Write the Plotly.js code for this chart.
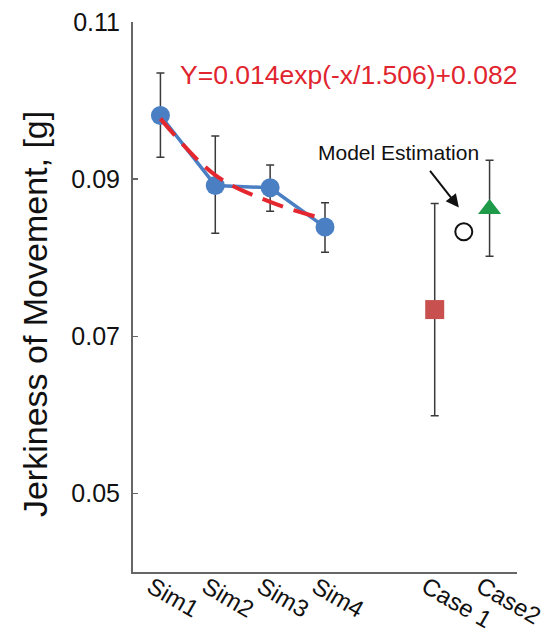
<!DOCTYPE html>
<html>
<head>
<meta charset="utf-8">
<script src="https://cdn.plot.ly/plotly-3.0.1.min.js"></script>
<style>
  html, body { margin: 0; padding: 0; background: #fff; }
  #chart { width: 560px; height: 636px; }
</style>
</head>
<body>
<div id="chart"></div>
<script>
// ---- Data ----
const categories = ['Sim1', 'Sim2', 'Sim3', 'Sim4', 'Case 1', 'Case2'];
const categoryX = [1, 2, 3, 4, 6, 7];

const simX = [1, 2, 3, 4];
const simJerk = [0.0981, 0.0892, 0.0889, 0.0839];
const simErrPlus = [0.0054, 0.0063, 0.0029, 0.0031];
const simErrMinus = [0.0053, 0.0061, 0.0030, 0.0032];

const fitJerk = [0.0977, 0.0905, 0.0871, 0.0849];
const fitLabel = 'Y=0.014exp(-x/1.506)+0.082';

const case1X = [6];
const case1Jerk = [0.0734];
const case1ErrPlus = [0.0135];
const case1ErrMinus = [0.0135];

const case2X = [7];
const case2Jerk = [0.0862];
const case2ErrPlus = [0.0062];
const case2ErrMinus = [0.0060];

const estimateX = [6.53];
const estimateJerk = [0.0833];
const estimateLabel = 'Model Estimation';

const yTickVals = [0.05, 0.07, 0.09, 0.11];
const yTickText = ['0.05', '0.07', '0.09', '0.11'];
const yTitle = 'Jerkiness of Movement, [g]';

// ---- Styles ----
const FONT = 'Liberation Sans, Arial, Helvetica, sans-serif';
const errStyle = { color: '#3a3a3a', thickness: 1.5, width: 4 };

const traces = [
  {
    x: simX, y: simJerk, type: 'scatter', mode: 'lines+markers',
    line: { color: '#4a7fc4', width: 3.5 },
    marker: { color: '#4a7fc4', size: 19 },
    error_y: Object.assign({ type: 'data', symmetric: false, array: simErrPlus, arrayminus: simErrMinus }, errStyle),
    hoverinfo: 'skip'
  },
  {
    x: simX, y: fitJerk, type: 'scatter', mode: 'lines',
    line: { color: '#e4262f', width: 4, dash: '22px,11px', shape: 'spline' },
    hoverinfo: 'skip'
  },
  {
    x: case1X, y: case1Jerk, type: 'scatter', mode: 'markers',
    marker: { color: '#c8504f', size: 19, symbol: 'square' },
    error_y: Object.assign({ type: 'data', symmetric: false, array: case1ErrPlus, arrayminus: case1ErrMinus }, errStyle),
    hoverinfo: 'skip'
  },
  {
    x: case2X, y: case2Jerk, type: 'scatter', mode: 'markers',
    marker: { color: '#1e9a48', size: 20, symbol: 'triangle-up' },
    error_y: Object.assign({ type: 'data', symmetric: false, array: case2ErrPlus, arrayminus: case2ErrMinus }, errStyle),
    hoverinfo: 'skip'
  },
  {
    x: estimateX, y: estimateJerk, type: 'scatter', mode: 'markers',
    marker: { color: '#ffffff', size: 17, symbol: 'circle', line: { color: '#111', width: 2 } },
    hoverinfo: 'skip'
  }
];

const annotations = categories.map((c, i) => ({
  x: categoryX[i], xref: 'x', y: 0, yref: 'paper',
  xanchor: 'left', yanchor: 'top', xshift: -20, yshift: 3,
  text: c, showarrow: false, textangle: 30,
  font: { family: FONT, size: 24, color: '#111' }
}));

annotations.push({
  x: 0, xref: 'paper', y: 0.469, yref: 'paper',
  xanchor: 'center', yanchor: 'middle', xshift: -98,
  text: yTitle, textangle: -90, showarrow: false,
  font: { family: FONT, size: 34, color: '#111' }
});

annotations.push({
  x: 4.43, xref: 'x', y: 0.1033, yref: 'y',
  text: fitLabel, showarrow: false,
  font: { family: FONT, size: 26.5, color: '#e0252f' }
});

annotations.push({
  x: 5.34, xref: 'x', y: 0.0934, yref: 'y',
  text: estimateLabel, showarrow: false,
  font: { family: FONT, size: 21, color: '#111' }
});

annotations.push({
  x: 6.44, xref: 'x', y: 0.0864, yref: 'y',
  ax: -30, ay: -38, text: '', showarrow: true,
  arrowhead: 2, arrowsize: 1.3, arrowwidth: 2, arrowcolor: '#111'
});

const layout = {
  width: 560, height: 636,
  margin: { l: 133, r: 43, t: 22, b: 64, pad: 0 },
  paper_bgcolor: '#fff', plot_bgcolor: '#fff',
  showlegend: false,
  font: { family: FONT, color: '#111' },
  xaxis: {
    range: [0.5, 7.5], tickvals: categoryX, showticklabels: false, ticks: '',
    showline: true, linecolor: '#666', linewidth: 2,
    showgrid: false, zeroline: false, fixedrange: true
  },
  yaxis: {
    range: [0.04, 0.11], tickvals: yTickVals, ticktext: yTickText,
    ticks: 'inside', ticklen: 5, tickwidth: 1.5, tickcolor: '#666',
    showline: true, linecolor: '#666', linewidth: 2,
    showgrid: false, zeroline: false, fixedrange: true,
    ticklabelstandoff: 6,
    tickfont: { family: FONT, size: 25, color: '#111' }
  },
  annotations: annotations
};

Plotly.newPlot('chart', traces, layout, { displayModeBar: false, staticPlot: true });
</script>
</body>
</html>
